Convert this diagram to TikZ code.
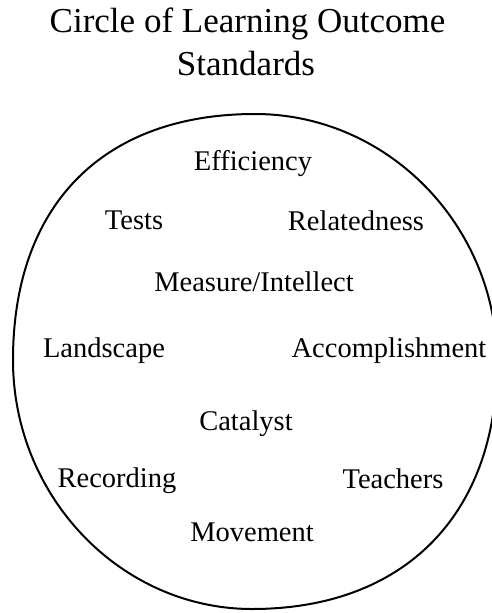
\documentclass[tikz,border=0pt]{standalone}
\usepackage{fontspec}
\setmainfont{Liberation Serif}
\usetikzlibrary{positioning,shapes.geometric}

\begin{document}
\begin{tikzpicture}[
  x=1pt, y=-1pt,
  titletext/.style={
    inner sep=0pt,
    anchor=base,
    font=\fontsize{35}{43}\selectfont
    },
  wordtext/.style={
    inner sep=0pt,
    anchor=base,
    font=\fontsize{28.5}{34}\selectfont
    },
  outline/.style={
    draw,
    line width=2pt
    }
]
\useasboundingbox (0,0) rectangle (492,613);

\node[titletext] (title1) at (247.5,32) {Circle of Learning Outcome};
\node[titletext] (title2) at (246,75) {Standards};

% the ring, running a little past the right edge
\coordinate (ringtop) at (255,114);
\coordinate (ringright) at (497,362);
\coordinate (ringbottom) at (252,609);
\coordinate (ringleft) at (13,360);
\draw[outline] (ringtop)
  .. controls (388,114) and (497,226) .. (ringright)
  .. controls (497,515) and (404,609) .. (ringbottom)
  .. controls (121,609) and (13,497) .. (ringleft)
  .. controls (13,205) and (103,114) .. cycle;

\foreach \Word/\Posx/\Posy [count=\Wordi from 1] in {
  Efficiency/253/170,
  Tests/134/229,
  Relatedness/356/230,
  Measure\slash Intellect/254/291,
  Landscape/104/357,
  Accomplishment/389/357,
  Catalyst/246/430,
  Recording/117/487,
  Teachers/393/488,
  Movement/252/541}
  \node[wordtext] (word\Wordi) at (\Posx,\Posy) {\Word};

\end{tikzpicture}
\end{document}
